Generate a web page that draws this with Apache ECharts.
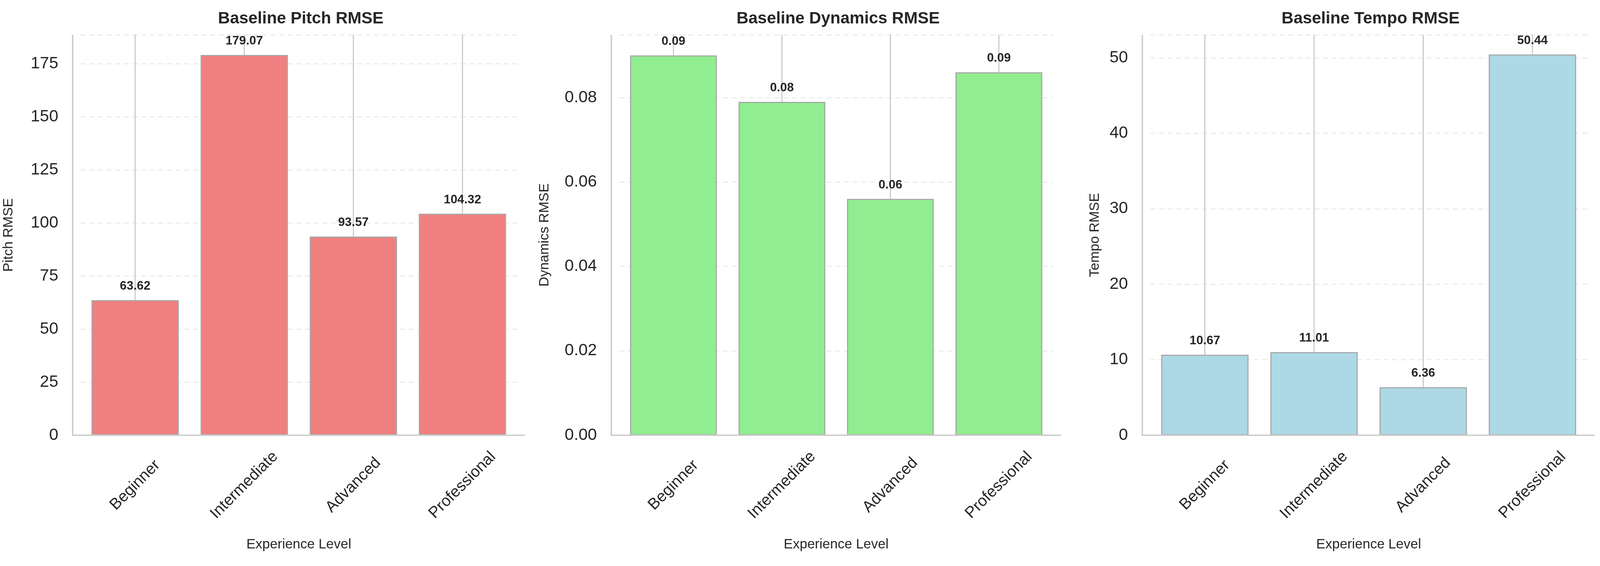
<!DOCTYPE html>
<html><head><meta charset="utf-8">
<script src="https://cdn.jsdelivr.net/npm/echarts@6/dist/echarts.min.js"></script>
<style>html,body{margin:0;padding:0;background:#fff;overflow:hidden}#c{width:100vw;height:100vh}</style>
</head><body><div id="c"></div>
<script>
const categories = ['Beginner','Intermediate','Advanced','Professional'];
const pitchValues = [63.62, 179.07, 93.57, 104.32];
const pitchErrors = [160, 140, 150, 150];
const dynamicsValues = [0.090, 0.079, 0.056, 0.086];
const dynamicsErrors = [0.06, 0.05, 0.05, 0.06];
const tempoValues = [10.67, 11.01, 6.36, 50.44];
const tempoErrors = [50, 50, 50, 30];
const titles = ['Baseline Pitch RMSE','Baseline Dynamics RMSE','Baseline Tempo RMSE'];
const yNames = ['Pitch RMSE','Dynamics RMSE','Tempo RMSE'];

const el=document.getElementById('c');
const chart=echarts.init(el);
const W=chart.getWidth(), H=chart.getHeight();
const sx=W/4447, sy=H/1450, sf=Math.min(sx,sy);
const X=v=>v*sx, Y=v=>v*sy, F=v=>v*sf;

const panels = [
  {vals:pitchValues, errs:pitchErrors, color:'#F08080', max:188.6, interval:25, dec:0, spineL:202, spineR:1459, nameGap:181},
  {vals:dynamicsValues, errs:dynamicsErrors, color:'#90EE90', max:0.0949, interval:0.02, dec:2, spineL:1699, spineR:2949, nameGap:188},
  {vals:tempoValues, errs:tempoErrors, color:'#ADD8E6', max:53.05, interval:10, dec:0, spineL:3175, spineR:4433, nameGap:134}
];
const TOP=89, BOT=1115, PAD=22;
const txt='#262626', spine='#cccccc';
const font='Liberation Sans, Arial, sans-serif';

const grid=[], xAxis=[], yAxis=[], series=[], title=[], graphic=[];
panels.forEach((p,i)=>{
  grid.push({left:X(p.spineL+PAD), right:W-X(p.spineR-PAD), top:Y(TOP), bottom:H-Y(BOT)});
  title.push({text:titles[i], left:X((p.spineL+p.spineR)/2), top:Y(22), textAlign:'center',
    textStyle:{fontFamily:font, fontSize:F(46), fontWeight:'bold', color:txt}});
  xAxis.push({type:'category', gridIndex:i, data:categories, boundaryGap:true,
    name:'Experience Level', nameLocation:'middle', nameGap:Y(263),
    nameTextStyle:{fontFamily:font, fontSize:F(38), color:txt},
    axisLine:{show:false}, axisTick:{show:false},
    axisLabel:{rotate:45, align:'center', verticalAlign:'middle', margin:Y(128), fontFamily:font, fontSize:F(44), color:txt}});
  yAxis.push({type:'value', gridIndex:i, min:0, max:p.max, interval:p.interval,
    name:yNames[i], nameLocation:'middle', nameGap:X(p.nameGap),
    nameTextStyle:{fontFamily:font, fontSize:F(38), color:txt},
    axisLine:{show:false}, axisTick:{show:false},
    axisLabel:{margin:X(62), fontFamily:font, fontSize:F(46), color:txt, showMaxLabel:false,
      formatter:v=>v.toFixed(p.dec)},
    splitLine:{show:true, lineStyle:{color:'#ececec', width:F(3), type:[F(14),F(10)]}}});
  series.push({type:'custom', xAxisIndex:i, yAxisIndex:i, clip:true, z:1,
    data:p.vals.map((v,k)=>[k, v-p.errs[k], v+p.errs[k]]),
    renderItem:(params, api)=>{
      const a=api.coord([api.value(0), api.value(1)]);
      const b=api.coord([api.value(0), api.value(2)]);
      return {type:'line', shape:{x1:a[0],y1:a[1],x2:b[0],y2:b[1]}, style:{stroke:'#c8c8c8', lineWidth:F(3)}};
    }});
  series.push({type:'bar', xAxisIndex:i, yAxisIndex:i, z:3, data:p.vals, barWidth:'80%',
    itemStyle:{color:p.color, borderColor:'#a6a6a6', borderWidth:F(3)},
    label:{show:true, position:'top', distance:Y(20), formatter:o=>o.value.toFixed(2),
      fontFamily:font, fontSize:F(34), fontWeight:'bold', color:txt}});
  graphic.push({type:'line', z:100, shape:{x1:X(p.spineL), y1:Y(TOP), x2:X(p.spineL), y2:Y(BOT)}, style:{stroke:spine, lineWidth:F(4)}});
  graphic.push({type:'line', z:100, shape:{x1:X(p.spineL)-F(2), y1:Y(BOT), x2:X(p.spineR), y2:Y(BOT)}, style:{stroke:spine, lineWidth:F(4)}});
});
chart.setOption({backgroundColor:'#fff', animation:false, title, grid, xAxis, yAxis, series, graphic});
</script></body></html>
